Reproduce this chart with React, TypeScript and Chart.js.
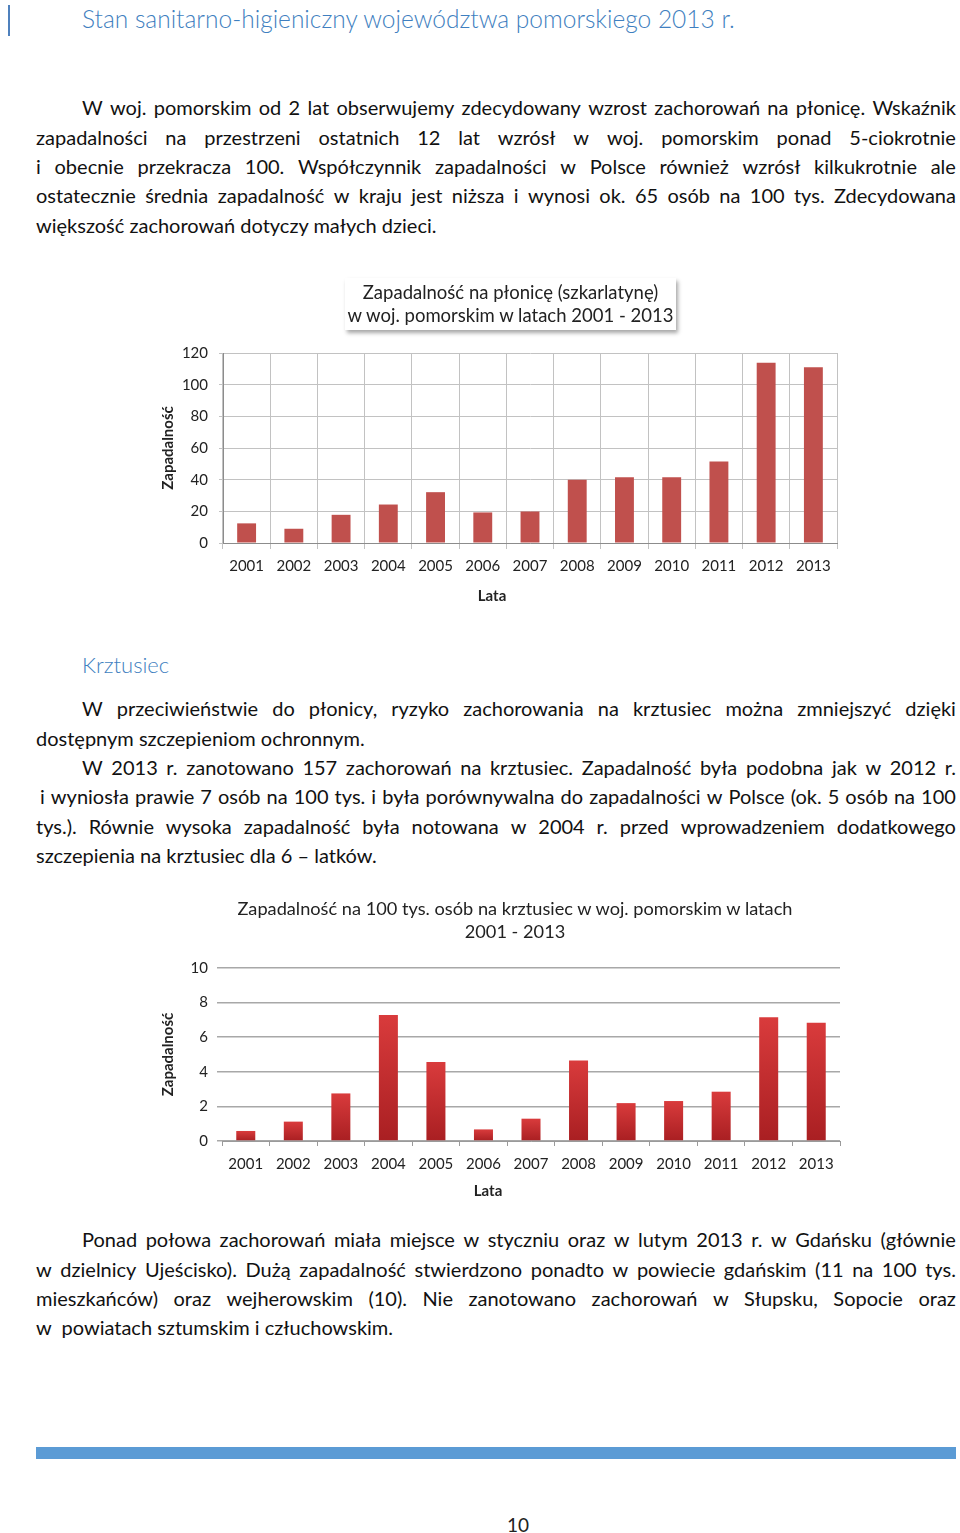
import React, { useEffect, useLayoutEffect, useRef } from 'react';
import { Chart, registerables } from 'chart.js';

Chart.register(...registerables);

// ---------- data ----------
const years = ['2001', '2002', '2003', '2004', '2005', '2006', '2007', '2008', '2009', '2010', '2011', '2012', '2013'];
const scarletFeverRates = [12.4, 9.0, 17.8, 24.3, 32.1, 19.3, 19.9, 39.9, 41.5, 41.5, 51.4, 113.9, 111.0];
const pertussisRates = [0.58, 1.12, 2.75, 7.29, 4.56, 0.67, 1.29, 4.65, 2.19, 2.31, 2.85, 7.15, 6.83];
const scarletTicks = [0, 20, 40, 60, 80, 100, 120];
const pertussisTicks = [0, 2, 4, 6, 8, 10];

const scarletTitle = ['Zapadalność na płonicę (szkarlatynę)', 'w woj. pomorskim w latach 2001 - 2013'];
const pertussisTitle = ['Zapadalność na 100 tys. osób na krztusiec w woj. pomorskim w latach', '2001 - 2013'];
const xAxisTitle = 'Lata';
const yAxisTitle = 'Zapadalność';

const FONT = 'Lato, "Liberation Sans", sans-serif';
const LINE_H = 29.33;

if (typeof document !== 'undefined') {
  document.body.style.margin = '0';
  document.documentElement.style.overflow = 'hidden';
}

type LineSpec = { t: string; indent?: number; last?: boolean };

const para1: LineSpec[] = [
  { t: 'W woj. pomorskim od 2 lat obserwujemy zdecydowany wzrost zachorowań na płonicę. Wskaźnik', indent: 46 },
  { t: 'zapadalności na przestrzeni ostatnich 12 lat wzrósł w woj. pomorskim ponad 5-ciokrotnie' },
  { t: 'i obecnie przekracza 100. Współczynnik zapadalności w Polsce również wzrósł kilkukrotnie ale' },
  { t: 'ostatecznie średnia zapadalność w kraju jest niższa i wynosi ok. 65 osób na 100 tys. Zdecydowana' },
  { t: 'większość zachorowań dotyczy małych dzieci.', last: true },
];

const para2: LineSpec[] = [
  { t: 'W przeciwieństwie do płonicy, ryzyko zachorowania na krztusiec można zmniejszyć dzięki', indent: 46 },
  { t: 'dostępnym szczepieniom ochronnym.', last: true },
  { t: 'W 2013 r. zanotowano 157 zachorowań na krztusiec. Zapadalność była podobna jak w 2012 r.', indent: 46 },
  { t: 'i wyniosła prawie 7 osób na 100 tys. i była porównywalna do zapadalności w Polsce (ok. 5 osób na 100', indent: 4 },
  { t: 'tys.). Równie wysoka zapadalność była notowana w 2004 r. przed wprowadzeniem dodatkowego' },
  { t: 'szczepienia na krztusiec dla 6 – latków.', last: true },
];

const para3: LineSpec[] = [
  { t: 'Ponad połowa zachorowań miała miejsce w styczniu oraz w lutym 2013 r. w Gdańsku (głównie', indent: 46 },
  { t: 'w dzielnicy Ujeścisko). Dużą zapadalność stwierdzono ponadto w powiecie gdańskim (11 na 100 tys.' },
  { t: 'mieszkańców) oraz wejherowskim (10). Nie zanotowano zachorowań w Słupsku, Sopocie oraz' },
  { t: 'w\u00a0 powiatach sztumskim i człuchowskim.', last: true },
];

function Line({ spec }: { spec: LineSpec }) {
  const base: React.CSSProperties = {
    height: LINE_H,
    lineHeight: LINE_H + 'px',
    paddingLeft: spec.indent || 0,
    whiteSpace: 'pre',
  };
  if (spec.last) return <div style={base}>{spec.t}</div>;
  const words = spec.t.split(' ');
  return (
    <div style={{ ...base, display: 'flex', justifyContent: 'space-between', columnGap: 3 }}>
      {words.map((w, i) => (
        <span key={i}>{w}</span>
      ))}
    </div>
  );
}

function Paragraph({ lines, top }: { lines: LineSpec[]; top: number }) {
  return (
    <div
      style={{
        position: 'absolute',
        left: 36,
        top,
        width: 920,
        fontFamily: FONT,
        fontSize: 20,
        color: '#111',
      }}
    >
      {lines.map((l, i) => (
        <Line key={i} spec={l} />
      ))}
    </div>
  );
}

const tickFont = { family: FONT, size: 15 };
const titleFont = { family: FONT, size: 15, weight: 'bold' as const };

function ScarletChart() {
  const ref = useRef<HTMLCanvasElement | null>(null);
  useEffect(() => {
    if (!ref.current) return;
    const chart = new Chart(ref.current, {
      type: 'bar',
      data: {
        labels: years,
        datasets: [
          {
            data: scarletFeverRates,
            backgroundColor: '#c0504d',
            barPercentage: 0.4,
            categoryPercentage: 1,
          },
        ],
      },
      options: {
        animation: false,
        responsive: false,
        devicePixelRatio: 1,
        layout: { padding: { top: 83, right: 13, left: 0, bottom: 0 } },
        plugins: { legend: { display: false }, tooltip: { enabled: false } },
        scales: {
          x: {
            grid: { color: '#c2c2c2', offset: true, tickLength: 6 },
            border: { color: '#8c8c8c' },
            ticks: { color: '#222', font: tickFont, padding: 8, maxRotation: 0, autoSkip: false },
            title: { display: false, text: xAxisTitle },
            afterFit: (s: any) => {
              s.height = 67;
            },
          },
          y: {
            min: scarletTicks[0],
            max: scarletTicks[scarletTicks.length - 1],
            ticks: { stepSize: scarletTicks[1] - scarletTicks[0], color: '#222', font: tickFont, padding: 11 },
            grid: { color: '#c2c2c2', tickLength: 4 },
            border: { color: '#8c8c8c' },
            title: { display: true, text: yAxisTitle, color: '#222', font: titleFont, padding: { top: 9, bottom: 0 } },
            afterFit: (s: any) => {
              s.width = 73;
            },
          },
        },
      },
    });
    return () => chart.destroy();
  }, []);
  return (
    <canvas
      ref={ref}
      width={700}
      height={340}
      style={{ position: 'absolute', left: 150, top: 270, width: 700, height: 340 }}
    />
  );
}

function PertussisChart() {
  const ref = useRef<HTMLCanvasElement | null>(null);
  useEffect(() => {
    if (!ref.current) return;
    const chart = new Chart(ref.current, {
      type: 'bar',
      data: {
        labels: years,
        datasets: [
          {
            data: pertussisRates,
            backgroundColor: (c: any) => {
              const ch = c.chart;
              const y = ch.scales && ch.scales.y;
              if (!y || !c.parsed) return '#c62a2c';
              const top = y.getPixelForValue(c.parsed.y);
              const base = y.getPixelForValue(0);
              if (!isFinite(top) || !isFinite(base) || base - top < 1) return '#c62a2c';
              const g = ch.ctx.createLinearGradient(0, top, 0, base);
              g.addColorStop(0, '#d93b3c');
              g.addColorStop(1, '#a91f22');
              return g;
            },
            barPercentage: 0.4,
            categoryPercentage: 1,
          },
        ],
      },
      options: {
        animation: false,
        responsive: false,
        devicePixelRatio: 1,
        layout: { padding: { top: 78, right: 10, left: 0, bottom: 0 } },
        plugins: { legend: { display: false }, tooltip: { enabled: false } },
        scales: {
          x: {
            grid: { color: '#9a9a9a', offset: true, tickLength: 5, drawOnChartArea: false },
            border: { color: '#9a9a9a' },
            ticks: { color: '#222', font: tickFont, padding: 9, maxRotation: 0, autoSkip: false },
            title: { display: false, text: xAxisTitle },
            afterFit: (s: any) => {
              s.height = 69;
            },
          },
          y: {
            min: pertussisTicks[0],
            max: pertussisTicks[pertussisTicks.length - 1],
            ticks: { stepSize: pertussisTicks[1] - pertussisTicks[0], color: '#222', font: tickFont, padding: 9 },
            grid: { color: '#a8a8a8', lineWidth: 1.5, tickLength: 5 },
            border: { display: false },
            title: { display: true, text: yAxisTitle, color: '#222', font: titleFont, padding: { top: 9, bottom: 0 } },
            afterFit: (s: any) => {
              s.width = 72;
            },
          },
        },
      },
    });
    return () => chart.destroy();
  }, []);
  return (
    <canvas
      ref={ref}
      width={700}
      height={320}
      style={{ position: 'absolute', left: 150, top: 890, width: 700, height: 320 }}
    />
  );
}

function AxisTitle({ x, y, text }: { x: number; y: number; text: string }) {
  return (
    <div
      style={{
        position: 'absolute',
        left: x - 50,
        top: y - 10,
        width: 100,
        lineHeight: '20px',
        textAlign: 'center',
        fontFamily: FONT,
        fontSize: 15,
        fontWeight: 'bold',
        color: '#222',
      }}
    >
      {text}
    </div>
  );
}

export default function App() {
  useLayoutEffect(() => {
    document.body.style.margin = '0';
    document.documentElement.style.overflow = 'hidden';
  }, []);
  const blue = '#3f7fc0';
  return (
    <div style={{ position: 'relative', width: 960, height: 1533, background: '#fff', fontFamily: FONT, overflow: 'hidden' }}>
      <div style={{ position: 'absolute', left: 8, top: 5, width: 2, height: 31, background: '#4f81bd' }} />
      <div
        style={{
          position: 'absolute',
          left: 82,
          top: 19 - 16,
          lineHeight: '32px',
          fontSize: 24.5,
          fontWeight: 300,
          color: blue,
          whiteSpace: 'nowrap',
        }}
      >
        Stan sanitarno-higieniczny województwa pomorskiego 2013 r.
      </div>

      <Paragraph lines={para1} top={108 - LINE_H / 2} />

      <ScarletChart />
      <div
        style={{
          position: 'absolute',
          left: 345,
          top: 278,
          width: 331,
          height: 52,
          background: '#fff',
          boxShadow: '2px 3px 4px rgba(0,0,0,0.35)',
          textAlign: 'center',
          fontSize: 18.5,
          lineHeight: '23px',
          color: '#222',
          paddingTop: 3,
          boxSizing: 'border-box',
          whiteSpace: 'nowrap',
        }}
      >
        {scarletTitle.map((t, i) => (
          <div key={i}>{t}</div>
        ))}
      </div>
      <AxisTitle x={492} y={595} text={xAxisTitle} />

      <div
        style={{
          position: 'absolute',
          left: 82,
          top: 665 - 15,
          lineHeight: '30px',
          fontSize: 22,
          fontWeight: 300,
          color: blue,
        }}
      >
        Krztusiec
      </div>

      <Paragraph lines={para2} top={709 - LINE_H / 2} />

      <PertussisChart />
      <div
        style={{
          position: 'absolute',
          left: 165,
          top: 897,
          width: 700,
          textAlign: 'center',
          fontSize: 18.2,
          lineHeight: '23px',
          color: '#222',
        }}
      >
        {pertussisTitle.map((t, i) => (
          <div key={i}>{t}</div>
        ))}
      </div>
      <AxisTitle x={488} y={1190} text={xAxisTitle} />

      <Paragraph lines={para3} top={1240 - LINE_H / 2} />

      <div style={{ position: 'absolute', left: 36, top: 1447, width: 920, height: 12, background: '#5b9bd5' }} />
      <div
        style={{
          position: 'absolute',
          left: 518 - 50,
          width: 100,
          top: 1525 - 12,
          height: 24,
          lineHeight: '24px',
          fontSize: 19,
          textAlign: 'center',
          color: '#222',
        }}
      >
        10
      </div>
    </div>
  );
}
